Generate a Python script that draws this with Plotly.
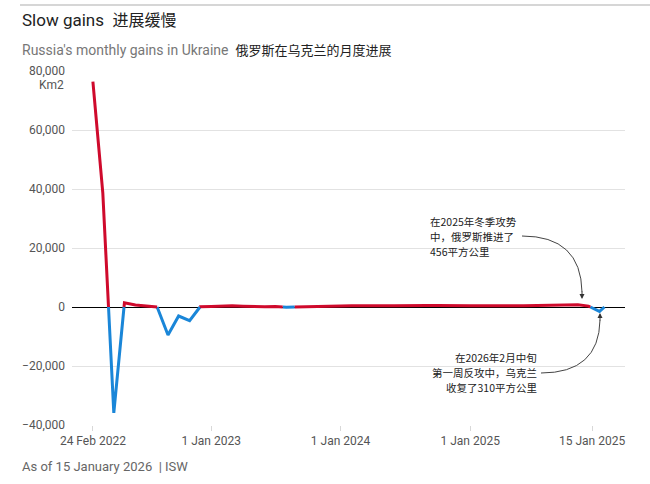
import pandas as pd
import plotly.graph_objects as go

# ---------------- data ----------------
dates = (list(pd.date_range("2022-02-01", "2026-01-01", freq="MS").strftime("%Y-%m-%d"))
         + ["2026-01-15"])
gains = [
    # 2022 Feb..Dec
    76400, 38600, -35900, 1450, 700, 400, 100, -9500, -3050, -4600, 100,
    # 2023
    200, 350, 400, 250, 150, 100, 200, -100, 30, 150, 200, 250,
    # 2024
    300, 400, 350, 300, 400, 450, 400, 450, 500, 550, 600, 500,
    # 2025
    450, 400, 350, 300, 400, 450, 500, 500, 450, 700, 750, 300,
    # 2026
    -1500, 0,
]
tick_vals = ["2022-02-01", "2023-01-01", "2024-01-01", "2025-01-01", "2025-12-11"]
tick_text = ["24 Feb 2022", "1 Jan 2023", "1 Jan 2024", "1 Jan 2025", "15 Jan 2025"]
y_ticks = [-40000, -20000, 0, 20000, 40000, 60000, 80000]
note_top = ["在2025年冬季攻势", "中，俄罗斯推进了", "456平方公里"]
note_bottom = ["在2026年2月中旬", "第一周反攻中，乌克兰", "收复了310平方公里"]

RED = "#cf0a2c"
BLUE = "#1a86d8"
FONT = "Roboto, 'Noto Sans CJK SC', sans-serif"
CJK = "'Noto Sans CJK SC', Roboto, sans-serif"

# ---------- split line into positive / negative coloured pieces ----------
ts = pd.to_datetime(pd.Series(dates))
tn = ts.astype("int64").tolist()
pts = []
for i in range(len(gains)):
    pts.append((tn[i], gains[i]))
    if i < len(gains) - 1 and gains[i] * gains[i + 1] < 0:
        f = gains[i] / (gains[i] - gains[i + 1])
        pts.append((tn[i] + f * (tn[i + 1] - tn[i]), 0.0))

traces = {"pos": ([], [], [None]), "neg": ([], [], [None])}
for k in range(len(pts) - 1):
    a, b = pts[k], pts[k + 1]
    key = "pos" if (a[1] + b[1]) > 0 else "neg"
    xs, ys, last = traces[key]
    if last[0] != k:
        if xs:
            xs.append(None); ys.append(None)
        xs.append(a[0]); ys.append(a[1])
    xs.append(b[0]); ys.append(b[1])
    last[0] = k + 1

def to_dt(v):
    return None if v is None else pd.Timestamp(int(v)).strftime("%Y-%m-%d %H:%M:%S")

fig = go.Figure()
for key, col in (("neg", BLUE), ("pos", RED)):
    xs, ys, _ = traces[key]
    fig.add_trace(go.Scatter(x=[to_dt(v) for v in xs], y=ys, mode="lines",
                             line=dict(color=col, width=3), connectgaps=False,
                             hoverinfo="skip", showlegend=False))

# ---------------- layout ----------------
L, R, T, B = 72, 25, 71, 59
W, H = 650, 484
PW, PH = W - L - R, H - T - B

def px(x):
    return (x - L) / PW

def py(y):
    return (H - B - y) / PH

fig.update_layout(
    width=W, height=H,
    margin=dict(l=L, r=R, t=T, b=B),
    paper_bgcolor="white", plot_bgcolor="white",
    font=dict(family=FONT, color="#555", size=12),
    xaxis=dict(type="date", range=["2021-12-04", "2026-03-14"],
               tickvals=tick_vals, ticktext=tick_text,
               showgrid=False, zeroline=False, showline=False,
               ticks="outside", ticklen=5, tickcolor="#d8d8d8",
               tickfont=dict(size=12, color="#555")),
    yaxis=dict(range=[-40000, 80000], tickvals=y_ticks,
               tickformat=",", showgrid=True, gridcolor="#e2e2e2", gridwidth=1,
               zeroline=True, zerolinecolor="#000", zerolinewidth=1,
               showline=False, ticks="", ticklabelstandoff=6,
               tickfont=dict(size=12, color="#555")),
)

# rule at top
fig.add_shape(type="line", xref="paper", yref="paper",
              x0=px(20), x1=px(650), y0=py(5), y1=py(5),
              line=dict(color="#d6d6d6", width=2))

ann = []
ann.append(dict(text="Slow gains  <span style='font-size:16px'>进展缓慢</span>",
                x=px(20), y=py(20), xanchor="left",
                yanchor="middle", font=dict(size=17, color="#222", family=FONT)))
ann.append(dict(text="Russia's monthly gains in Ukraine  "
                     "<span style='color:#222;font-size:13px'>俄罗斯在乌克兰的月度进展</span>",
                x=px(20), y=py(50), xanchor="left", yanchor="middle",
                font=dict(size=14, color="#777", family=FONT)))
ann.append(dict(text="Km2", x=px(66), y=py(85), xanchor="right", yanchor="middle",
                font=dict(size=12, color="#555", family=FONT)))
ann.append(dict(text="As of 15 January 2026  | ISW", x=px(20), y=py(466), xanchor="left",
                yanchor="middle", font=dict(size=13, color="#666", family=FONT)))
for i, line in enumerate(note_top):
    ann.append(dict(text=line, x=px(428), y=py(221 + 15 * i), xanchor="left",
                    yanchor="middle", font=dict(size=10.5, color="#222", family=CJK)))
for i, line in enumerate(note_bottom):
    ann.append(dict(text=line, x=px(539), y=py(357 + 15 * i), xanchor="right",
                    yanchor="middle", font=dict(size=10.5, color="#222", family=CJK)))
for a in ann:
    a.update(xref="paper", yref="paper", showarrow=False)

# arrowheads
ann.append(dict(x=px(582), y=py(299), xref="paper", yref="paper", ax=0, ay=-9,
                showarrow=True, arrowhead=2, arrowsize=1, arrowwidth=1,
                arrowcolor="#333", text=""))
ann.append(dict(x=px(600), y=py(313), xref="paper", yref="paper", ax=0, ay=9,
                showarrow=True, arrowhead=2, arrowsize=1, arrowwidth=1,
                arrowcolor="#333", text=""))
fig.update_layout(annotations=ann)

# curved connectors
def curve(p0, c, p1):
    return "M {},{} Q {},{} {},{}".format(px(p0[0]), py(p0[1]), px(c[0]), py(c[1]),
                                         px(p1[0]), py(p1[1]))

fig.add_shape(type="path", xref="paper", yref="paper",
              path=curve((522, 236), (581, 236), (582, 292)),
              line=dict(color="#444", width=1))
fig.add_shape(type="path", xref="paper", yref="paper",
              path=curve((541, 373), (599, 373), (600, 320)),
              line=dict(color="#444", width=1))

fig.write_html("out.html")
